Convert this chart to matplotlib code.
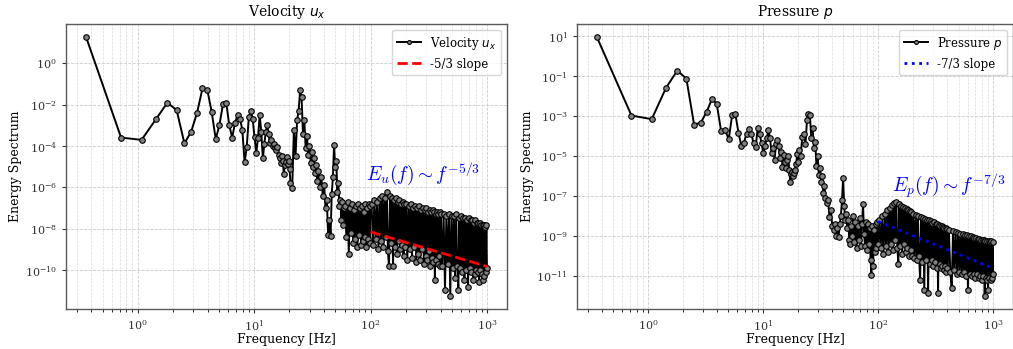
import numpy as np
import matplotlib
matplotlib.use("Agg")
import matplotlib.pyplot as plt
from matplotlib.ticker import NullLocator, LogLocator

# Frequency bins [Hz] shared by both spectra
freq_hz = [
    0.36, 0.72, 1.08, 1.44, 1.80, 2.16, 2.52, 2.88, 3.24, 3.60,
    3.96, 4.32, 4.68, 5.04, 5.40, 5.76, 6.12, 6.48, 6.84, 7.20,
    7.56, 7.92, 8.28, 8.64, 9.00, 9.36, 9.72, 10.08, 10.44, 10.80,
    11.16, 11.52, 11.88, 12.24, 12.60, 12.96, 13.32, 13.68, 14.04, 14.40,
    14.76, 15.12, 15.48, 15.84, 16.20, 16.56, 16.92, 17.28, 17.64, 18.00,
    18.36, 18.72, 19.08, 19.44, 19.80, 20.16,
    20.52, 21.24, 21.96, 22.68, 23.40, 24.12, 24.84, 25.56, 26.28, 27.00,
    27.72, 28.44, 29.16, 29.88, 30.60, 31.32, 32.04, 32.76, 33.48, 34.20,
    34.92, 35.64,
    36.72, 37.80, 38.88, 39.96, 41.04, 42.12, 43.20, 44.28, 45.36, 46.44,
    47.52, 48.60, 49.68, 50.76, 51.84, 52.92, 54.00, 55.08, 56.16, 57.24,
    58.32, 59.40,
    60.5, 62, 63.5, 65, 66.5, 68, 69.5, 71, 72.5, 74,
    75.5, 77, 78.5, 80, 81.5, 83, 84.5, 86, 87.5, 89,
    90.5, 92, 93.5, 95, 96.5, 98, 99.5,
    102, 105, 108, 111, 114, 117, 120, 123, 126, 129,
    132, 135, 138, 141, 144, 147, 150, 153, 156, 159,
    162, 165, 168, 171, 174, 177, 180, 183, 186, 189,
    192, 195, 198,
    202, 207, 212, 217, 222, 227, 232, 237, 242, 247,
    252, 257, 262, 267, 272, 277, 282, 287, 292, 297,
    302, 307, 312, 317, 322, 327, 332, 337, 342, 347,
    352, 357, 362, 367, 372, 377, 382, 387, 392, 397,
    400, 412, 424, 436, 448, 460, 472, 484, 496, 508,
    520, 532, 544, 556, 568, 580, 592, 604, 616, 628,
    640, 652, 664, 676, 688, 700, 712, 724, 736, 748,
    760, 772, 784, 796, 808, 820, 832, 844, 856, 868,
    880, 892, 904, 916, 928, 940, 952, 964, 976, 988,
    1000,
]

# log10 of the velocity spectrum E_u
ux_log10 = [
    1.28, -3.59, -3.70, -2.69, -1.90, -2.26, -3.87, -3.30, -2.38, -1.21,
    -1.28, -2.34, -3.67, -2.97, -1.98, -1.90, -3.00, -3.59, -2.90, -2.51,
    -2.68, -3.22, -4.78, -4.06, -2.61, -2.29, -2.70, -3.58, -4.32, -3.60,
    -2.50, -3.30, -4.60, -3.90, -3.30, -2.98, -3.40, -3.87, -3.70, -4.02,
    -3.90, -4.10, -4.19, -4.05, -4.45, -4.60, -4.83, -4.50, -4.70, -5.36,
    -4.90, -4.76, -4.55, -4.85, -4.70, -5.10,
    -5.80, -6.04, -3.22, -4.50, -2.74, -2.30, -1.29, -1.65, -3.40, -2.75,
    -4.10, -3.50, -4.45, -4.00, -4.80, -4.30, -5.00, -4.60, -5.30, -4.90,
    -5.70, -5.20,
    -6.00, -5.50, -6.40, -5.90, -7.00, -6.60, -8.30, -7.60, -8.35, -6.30,
    -5.50, -3.95, -5.00, -4.70, -6.20, -5.80, -6.90, -6.60, -7.60, -6.70,
    -7.80, -7.00,
    -6.9, -8.4, -6.7, -9.2, -7.0, -8.2, -6.8, -8.7, -7.1, -8.5,
    -6.9, -8.9, -6.8, -8.3, -7.0, -8.8, -6.9, -8.6, -7.2, -8.4,
    -6.8, -8.9, -7.0, -8.5, -6.8, -8.7, -6.9,
    -6.8, -8.8, -6.6, -8.5, -6.7, -9.0, -6.5, -8.6, -6.4, -8.9,
    -6.5, -8.4, -6.2, -9.1, -9.8, -6.4, -8.7, -6.5, -9.8, -6.6,
    -8.9, -6.5, -9.2, -6.7, -8.6, -6.6, -9.0, -6.8, -8.8, -6.7,
    -9.3, -6.8, -8.9,
    -6.8, -9.5, -6.9, -9.0, -6.8, -9.4, -7.0, -8.9, -6.9, -9.6,
    -7.0, -9.2, -6.9, -9.5, -7.1, -9.0, -7.0, -9.7, -7.1, -9.3,
    -7.0, -9.5, -7.2, -9.1, -7.1, -9.8, -7.2, -9.4, -7.1, -9.6,
    -7.2, -10.47, -7.3, -9.5, -7.2, -9.7, -7.3, -9.3, -7.2, -9.8,
    -7.3, -9.8, -7.3, -10.95, -7.4, -9.7, -7.3, -11.27, -7.4, -9.9,
    -7.4, -10.4, -7.3, -9.8, -10.95, -7.5, -9.9, -7.4, -10.1, -7.5,
    -10.5, -7.5, -10.0, -7.6, -10.8, -7.5, -9.9, -7.6, -10.1, -7.6,
    -10.5, -7.7, -10.2, -7.6, -10.0, -7.7, -10.1, -7.7, -10.6, -7.7,
    -10.0, -7.8, -10.2, -7.8, -10.5, -7.8, -10.3, -7.9, -10.1, -7.8,
    -9.9,
]

# log10 of the pressure spectrum E_p
p_log10 = [
    0.97, -2.97, -3.15, -1.57, -0.72, -1.12, -3.42, -3.33, -2.78, -2.15,
    -2.37, -3.72, -3.70, -4.15, -2.93, -2.90, -3.82, -4.48, -4.33, -3.87,
    -3.62, -3.87, -4.37, -4.57, -3.57, -3.87, -4.37, -4.87, -4.50, -4.12,
    -3.67, -4.12, -4.87, -4.60, -5.20, -4.40, -4.20, -4.50, -5.10, -4.80,
    -5.53, -4.95, -5.30, -5.60, -5.20, -5.00, -5.70, -6.28, -5.90, -5.78,
    -6.00, -5.85, -5.70, -5.40, -4.90, -5.30,
    -4.70, -5.00, -4.03, -3.87, -4.40, -3.20, -2.90, -2.95, -4.10, -3.60,
    -4.60, -4.30, -5.50, -5.00, -5.95, -5.60, -6.30, -6.00, -6.87, -6.50,
    -7.10, -7.37,
    -7.20, -8.03, -7.70, -8.50, -8.70, -8.40, -9.00, -8.60, -9.05, -8.40,
    -8.00, -7.20, -6.12, -7.50, -8.20, -7.90, -8.60, -8.20, -9.20, -9.40,
    -8.50, -9.00,
    -8.0, -9.3, -8.3, -9.6, -8.5, -9.2, -8.1, -9.5, -8.4, -7.42,
    -8.9, -9.5, -8.3, -9.7, -8.4, -9.4, -8.6, -10.2, -10.95, -8.5,
    -10.5, -8.7, -9.8, -8.4, -9.6, -8.3, -9.4,
    -8.2, -9.6, -8.0, -9.9, -7.9, -9.5, -7.7, -9.8, -7.6, -9.4,
    -7.45, -9.7, -7.35, -9.2, -7.28, -9.6, -10.4, -7.4, -9.5, -7.5,
    -9.9, -7.55, -9.4, -7.6, -9.8, -7.65, -9.6, -7.7, -10.0, -7.75,
    -9.7, -7.8, -10.0,
    -7.9, -10.1, -7.95, -10.2, -8.0, -10.0, -11.2, -8.05, -10.3, -8.1,
    -11.7, -8.15, -10.2, -8.2, -11.87, -8.2, -10.4, -8.25, -10.2, -8.35,
    -10.5, -8.3, -10.3, -8.4, -10.6, -8.4, -11.87, -8.45, -10.4, -8.5,
    -10.6, -8.5, -10.5, -8.55, -10.7, -8.6, -10.5, -8.6, -10.8, -8.65,
    -10.6, -8.7, -10.8, -11.6, -8.75, -10.7, -8.8, -10.9, -8.85, -10.8,
    -8.9, -10.9, -8.9, -10.8, -8.95, -11.0, -8.95, -11.7, -9.0, -10.9,
    -9.0, -11.0, -9.05, -10.9, -9.1, -11.1, -9.1, -10.9, -9.15, -11.1,
    -9.15, -11.0, -9.2, -11.2, -9.2, -11.0, -9.2, -12.03, -9.25, -11.1,
    -9.25, -11.2, -11.7, -9.25, -11.1, -9.3, -11.2, -9.25, -11.1, -9.3,
    -10.9,
]

# reference slope lines (end points)
slope_f = [100, 1000]
ux_slope = [7e-9, 1.5e-10]
p_slope = [5.2e-9, 2.4e-11]

ux_ticks = [1e0, 1e-2, 1e-4, 1e-6, 1e-8, 1e-10]
p_ticks = [1e1, 1e-1, 1e-3, 1e-5, 1e-7, 1e-9, 1e-11]

assert len(freq_hz) == len(ux_log10) == len(p_log10)

f = np.array(freq_hz)
E_ux = 10.0 ** np.array(ux_log10)
E_p = 10.0 ** np.array(p_log10)

plt.rcParams['font.family'] = 'DejaVu Serif'

fig = plt.figure(figsize=(10.13, 3.49), dpi=100)
ax1 = fig.add_axes([66 / 1013, 0.1138, 441 / 1013, 0.8175])
ax2 = fig.add_axes([577 / 1013, 0.1138, 436 / 1013, 0.8175])


def style_axis(ax, ticks):
    ax.set_xscale('log')
    ax.set_yscale('log')
    ax.set_yticks(ticks)
    ax.yaxis.set_minor_locator(NullLocator())
    ax.xaxis.set_minor_locator(LogLocator(base=10, subs=np.arange(2, 10)))
    ax.grid(True, which='major', linestyle='--', color='0.8', linewidth=0.6)
    ax.grid(True, which='minor', axis='x', linestyle='--', color='0.86', linewidth=0.5)
    ax.set_axisbelow(True)
    for s in ax.spines.values():
        s.set_color('0.35')
        s.set_linewidth(1.0)
    ax.tick_params(labelsize=8, colors='0.2', length=3)
    ax.set_xlabel('Frequency [Hz]', fontsize=9, labelpad=0)
    ax.set_ylabel('Energy Spectrum', fontsize=9, labelpad=2)


marker_kw = dict(marker='o', color='k', linewidth=1.4, markersize=4,
                 markerfacecolor='0.5', markeredgecolor='k', markeredgewidth=0.8)

# Velocity panel
ax1.plot(f, E_ux, label='Velocity $u_x$', **marker_kw)
ax1.plot(slope_f, ux_slope, 'r--', linewidth=2, label='-5/3 slope', zorder=5)
ax1.text(92, 2.3e-6, r'$E_u(f) \sim f^{-5/3}$', color='blue', fontsize=14,
         math_fontfamily='cm')
style_axis(ax1, ux_ticks)
ax1.set_title('Velocity $u_x$', fontsize=10)
ax1.legend(loc='upper right', fontsize=8.5, markerscale=0.7)

# Pressure panel
ax2.plot(f, E_p, label='Pressure $p$', **marker_kw)
ax2.plot(slope_f, p_slope, 'b:', linewidth=2, label='-7/3 slope', zorder=5)
ax2.text(131, 1.5e-7, r'$E_p(f) \sim f^{-7/3}$', color='blue', fontsize=14,
         math_fontfamily='cm')
style_axis(ax2, p_ticks)
ax2.set_title('Pressure $p$', fontsize=10)
ax2.legend(loc='upper right', fontsize=8.5, markerscale=0.7)

fig.savefig('out.png', dpi=100)
